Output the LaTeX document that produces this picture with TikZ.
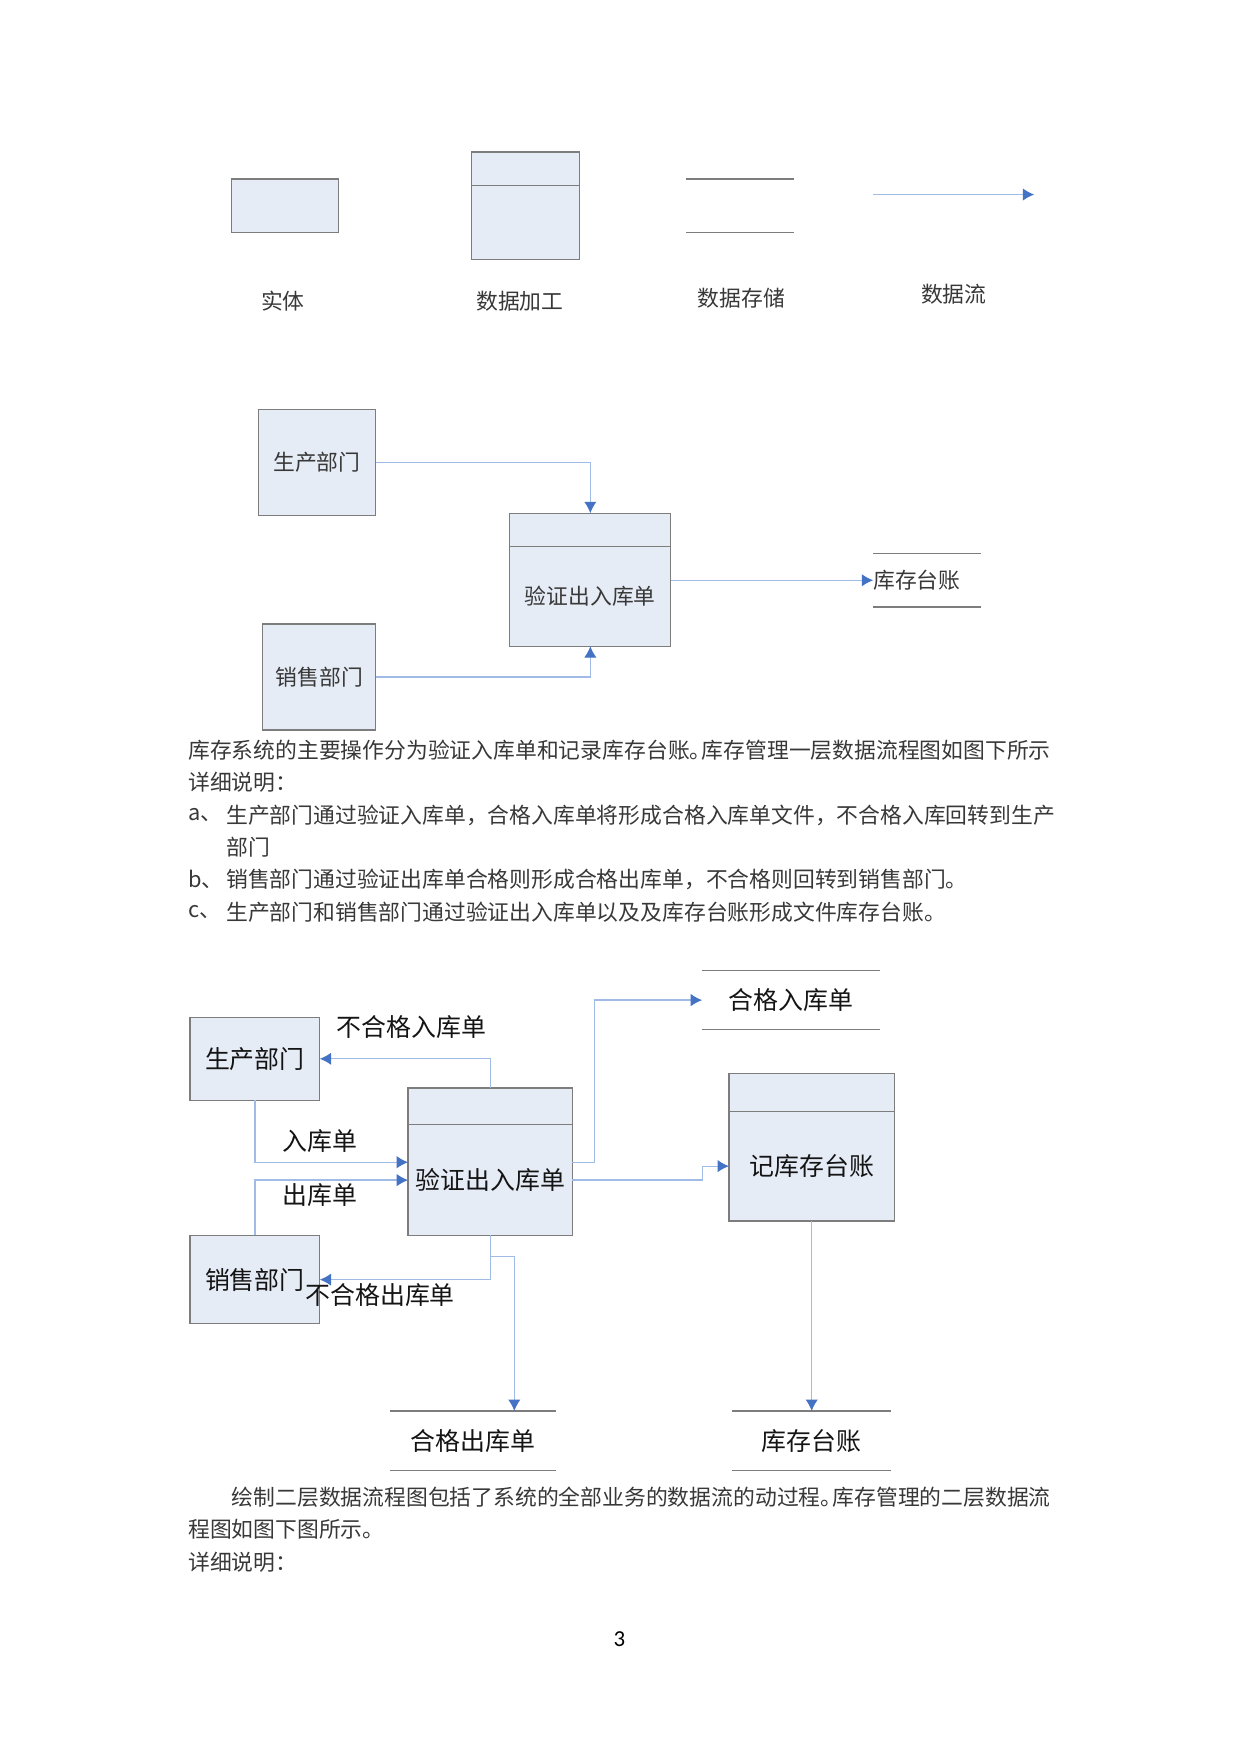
\documentclass[tikz,border=0pt]{standalone}
\usepackage{fontspec}
\setmainfont{Noto Sans CJK SC}
\newfontfamily\pagefont{Carlito}
\usetikzlibrary{arrows.meta,calc,positioning}
\def\pxl{0.018919cm}

\begin{document}
\begin{tikzpicture}[x=\pxl, y=-\pxl,
  every node/.style={font=\fontsize{10.5pt}{12pt}\selectfont, text=black!78},
  grand/.style={font=\fontsize{12pt}{14pt}\selectfont, text=black!92},
  ligne/.style={anchor=west, inner sep=0pt},
  entite/.style={draw=boxgray, fill=boxfill, line width=0.6pt, inner sep=0pt, outer sep=0pt},
  stockage/.style={inner sep=0pt, outer sep=0pt},
  trait/.style={draw=boxgray, line width=0.6pt},
  flux/.style={draw=flowline, line width=0.6pt, -{Latex[length=5.5pt,width=6pt,color=flowhead]}}]

% Couleurs
\definecolor{boxfill}{RGB}{230, 236, 246}  % fond des cases
\definecolor{boxgray}{RGB}{125, 125, 125}  % bords gris
\definecolor{flowline}{RGB}{160, 188, 230} % ligne des flux
\definecolor{flowhead}{RGB}{68, 114, 196}  % pointes des flux

% Cadre de la page
\useasboundingbox (0,0) rectangle (1110,1568.8);

% Légende
\node[entite, minimum width=96*\pxl, minimum height=48*\pxl] (ent0) at (255,184) {};
\node[entite, minimum width=96*\pxl, minimum height=30*\pxl] (proc0h) at (470,151) {};
\node[entite, minimum width=96*\pxl, minimum height=66*\pxl, below=0pt of proc0h] (proc0) {};
\node[stockage, minimum width=96*\pxl, minimum height=48*\pxl] (sto0) at (662,184) {};
\draw[trait] (sto0.north west) -- (sto0.north east);
\draw[trait] (sto0.south west) -- (sto0.south east);
\coordinate (f0a) at (781,174);
\coordinate (f0b) at (925,174);
\draw[flux] (f0a) -- (f0b);
\node (lab0) at (253,269) {实体};
\node (lab1) at (465,269) {数据加工};
\node (lab2) at (663,267) {数据存储};
\node (lab3) at (853,263) {数据流};

% Premier diagramme
\node[entite, minimum width=105*\pxl, minimum height=95*\pxl] (prod1) at (283.5,413.5) {生产部门};
\node[entite, minimum width=101*\pxl, minimum height=95*\pxl] (sale1) at (285.5,605.5) {销售部门};
\node[entite, minimum width=144*\pxl, minimum height=30*\pxl] (v1h) at (528,474) {};
\node[entite, minimum width=144*\pxl, minimum height=89*\pxl, below=0pt of v1h] (v1) {验证出入库单};
\node[stockage, anchor=west, text width=96*\pxl, align=left, minimum height=48*\pxl] (kc1) at (781,519) {库存台账};
\draw[trait] (kc1.north west) -- (kc1.north east);
\draw[trait] (kc1.south west) -- (kc1.south east);
\draw[flux] (prod1.east) -| (v1h.north);
\draw[flux] (sale1.east) -| (v1.south);
\draw[flux] (v1.east |- kc1.west) -- (kc1.west);

% Texte
\node[ligne] (t1) at (168,671) {库存系统的主要操作分为验证入库单和记录库存台账。\kern-0.45em 库存管理一层数据流程图如图下所示};
\node[ligne] (t2) at (168,700) {详细说明：};
\node[ligne] (t3a) at (168,729) {a、};
\node[ligne] (t3) at (202,729) {生产部门通过验证入库单，合格入库单将形成合格入库单文件，不合格入库回转到生产};
\node[ligne] (t4) at (202,758) {部门};
\node[ligne] (t5a) at (168,787) {b、};
\node[ligne] (t5) at (202,787) {销售部门通过验证出库单合格则形成合格出库单，不合格则回转到销售部门。};
\node[ligne] (t6a) at (168,816) {c、};
\node[ligne] (t6) at (202,816) {生产部门和销售部门通过验证出入库单以及及库存台账形成文件库存台账。};

% Second diagramme
\node[entite, grand, minimum width=116*\pxl, minimum height=74*\pxl] (prod2) at (228,947) {生产部门};
\node[entite, grand, minimum width=116*\pxl, minimum height=79*\pxl] (sale2) at (228,1144.5) {销售部门};
\node[entite, minimum width=147*\pxl, minimum height=33*\pxl] (v2h) at (438.5,989.5) {};
\node[entite, grand, minimum width=147*\pxl, minimum height=99*\pxl, below=0pt of v2h] (v2) {验证出入库单};
\node[entite, minimum width=148*\pxl, minimum height=34*\pxl] (j2h) at (726,977) {};
\node[entite, grand, minimum width=148*\pxl, minimum height=98*\pxl, below=0pt of j2h] (j2) {记库存台账};
\node[stockage, grand, minimum width=159*\pxl, minimum height=53*\pxl] (hr) at (707.5,894.5) {合格入库单};
\node[stockage, grand, minimum width=148*\pxl, minimum height=53*\pxl] (hc) at (423,1288.5) {合格出库单};
\node[stockage, grand, minimum width=142*\pxl, minimum height=53*\pxl] (kc2) at (726,1288.5) {库存台账};
\draw[trait] (hr.north west) -- (hr.north east);
\draw[trait] (hr.south west) -- (hr.south east);
\draw[trait] (hc.north west) -- (hc.north east);
\draw[trait] (hc.south west) -- (hc.south east);
\draw[trait] (kc2.north west) -- (kc2.north east);
\draw[trait] (kc2.south west) -- (kc2.south east);

% Flux
\draw[flux] (v2h.north) |- (prod2.east);
\draw[flux] (prod2.south) |- ($(v2.west)+(0,-16)$);
\draw[flux] (sale2.north) |- (v2.west);
\draw[flux] (v2.south) |- (sale2.east);
\draw[flux] (v2.south) -- ++(0,19) -| ($(hc.north)+(37,0)$);
\draw[flux] ($(v2.east)+(0,-16)$) -- ++(20,0) |- (hr.west);
\draw[flux] (v2.east) -- ++(116,0) |- (j2.west);
\draw[flux] (j2.south) -- (kc2.north);

% Étiquettes des flux
\node[grand] (e1) at (368,919) {不合格入库单};
\node[grand] (e2) at (286,1021) {入库单};
\node[grand] (e3) at (286,1069) {出库单};
\node[grand] (e4) at (340,1158) {不合格出库单};

% Texte final
\node[ligne] (t7) at (207,1339) {绘制二层数据流程图包括了系统的全部业务的数据流的动过程。\kern-0.45em 库存管理的二层数据流};
\node[ligne] (t8) at (168,1368) {程图如图下图所示。};
\node[ligne] (t9) at (168,1397) {详细说明：};
\node[font=\pagefont\fontsize{11pt}{13pt}\selectfont, text=black] (pg) at (554,1466) {3};

\end{tikzpicture}
\end{document}
